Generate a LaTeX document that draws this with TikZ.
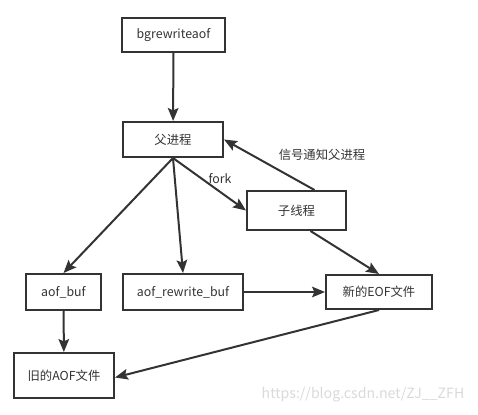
\documentclass[tikz,border=0pt]{standalone}
\usepackage{fontspec}
\setmainfont{Noto Sans CJK SC}
\usepackage{tikz}
\usetikzlibrary{arrows.meta}
\definecolor{ink}{HTML}{333333}

\begin{document}
\begin{tikzpicture}[x=0.85pt,y=-0.85pt]
\tikzstyle{every node}=[font=\fontsize{10.5}{12}\selectfont,text=ink]
\tikzstyle{box}=[draw=ink,line width=1.7pt,inner sep=0pt]
\tikzstyle{link}=[draw=ink,line width=1.7pt,-{Stealth[length=11pt,width=9pt,inset=2pt]}]

\useasboundingbox (0,0) rectangle (478,414);

\node[box,minimum width=103*0.85pt,minimum height=34*0.85pt] (bgrewrite) at (173.5,35) {bgrewriteaof};
\node[box,minimum width=100*0.85pt,minimum height=35*0.85pt] (parent) at (173,139.5) {父进程};
\node[box,minimum width=99*0.85pt,minimum height=39*0.85pt] (child) at (296.5,210.5) {子线程};
\node[box,minimum width=75*0.85pt,minimum height=36*0.85pt] (aofbuf) at (63.5,292) {aof\_buf};
\node[box,minimum width=120*0.85pt,minimum height=36*0.85pt] (rewritebuf) at (183,292) {aof\_rewrite\_buf};
\node[box,minimum width=106*0.85pt,minimum height=34*0.85pt] (neweof) at (379,292) {新的EOF文件};
\node[box,minimum width=100*0.85pt,minimum height=45*0.85pt] (oldaof) at (64,375.5) {旧的AOF文件};

\draw[link] (bgrewrite) -- (parent);
\draw[link] (parent.south) -- (aofbuf.north);
\draw[link] (parent.south) -- (rewritebuf.north);
\draw[link] (parent.south) -- (child.west);
\draw[link] ([xshift=18*0.85pt]child.north) -- (parent.east);
\draw[link] ([xshift=14*0.85pt]child.south) -- (neweof.north);
\draw[link] (rewritebuf) -- (neweof);
\draw[link] (aofbuf) -- (oldaof);
\draw[link] (neweof.south) -- ([yshift=-2*0.85pt]oldaof.east);

\node (fork) at (220,179) {fork};
\node (signal) at (322,155) {信号通知父进程};
\node[text=black!15,font=\fontsize{12}{14}\selectfont] (mark) at (363,395) {https://blog.csdn.net/ZJ\_\_ZFH};
\end{tikzpicture}
\end{document}
